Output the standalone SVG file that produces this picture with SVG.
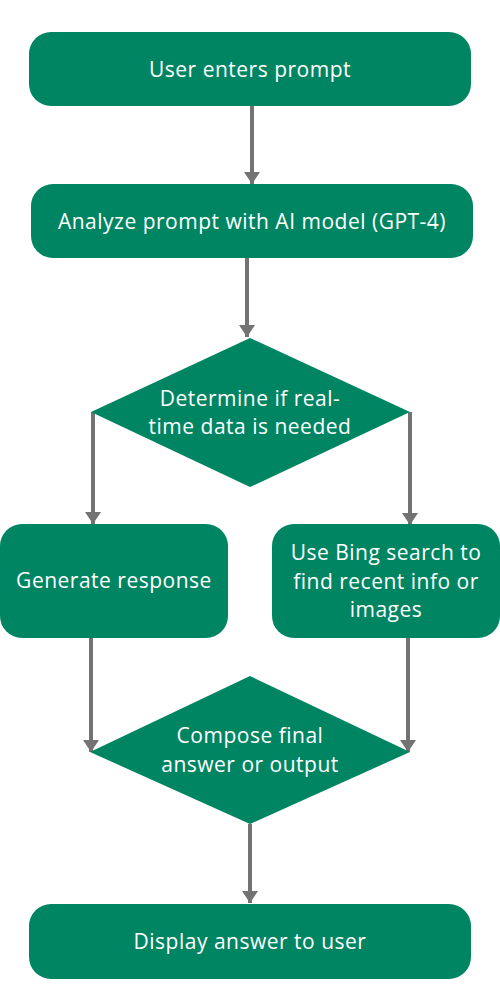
<svg xmlns="http://www.w3.org/2000/svg" width="500" height="1000" viewBox="0 0 500 1000">
<defs>
<style>
.n{fill:#008563}
.t{fill:#ffffff;font-family:"Open Sans","Noto Sans",sans-serif;font-size:21px;letter-spacing:0.5px;text-anchor:middle}
.c{stroke:#737373;stroke-width:4;fill:none}
</style>
<marker id="a" viewBox="0 0 16 12" refX="8" refY="12" markerWidth="16" markerHeight="12" markerUnits="userSpaceOnUse" orient="0">
<path d="M0,0 L16,0 L8,12 Z" fill="#737373"/>
</marker>
</defs>
<rect width="500" height="1000" fill="#ffffff"/>
<g id="connectors">
<line class="c" x1="252" y1="106" x2="252" y2="184" marker-end="url(#a)"/>
<line class="c" x1="247" y1="258" x2="247" y2="337" marker-end="url(#a)"/>
<line class="c" x1="93" y1="412" x2="93" y2="524" marker-end="url(#a)"/>
<line class="c" x1="410" y1="412" x2="410" y2="525" marker-end="url(#a)"/>
<line class="c" x1="91" y1="638" x2="91" y2="752" marker-end="url(#a)"/>
<line class="c" x1="408" y1="638" x2="408" y2="752" marker-end="url(#a)"/>
<line class="c" x1="250" y1="824" x2="250" y2="903" marker-end="url(#a)"/>
</g>
<g id="n1">
<rect class="n" x="29" y="32" width="442" height="74" rx="22"/>
<text class="t" x="250" y="77">User enters prompt</text>
</g>
<g id="n2">
<rect class="n" x="31" y="184" width="442" height="74" rx="22"/>
<text class="t" x="252" y="229">Analyze prompt with AI model (GPT-4)</text>
</g>
<g id="n3">
<polygon class="n" points="250,338 410,412 250,487 91,412"/>
<text class="t" x="250" y="406">Determine if real-</text>
<text class="t" x="250" y="434">time data is needed</text>
</g>
<g id="n4">
<rect class="n" x="0" y="524" width="228" height="114" rx="22"/>
<text class="t" x="114" y="588">Generate response</text>
</g>
<g id="n5">
<rect class="n" x="272" y="524" width="228" height="114" rx="22"/>
<text class="t" x="386" y="560">Use Bing search to</text>
<text class="t" x="386" y="589">find recent info or</text>
<text class="t" x="386" y="617">images</text>
</g>
<g id="n6">
<polygon class="n" points="250,676 410,752 250,824 90,752"/>
<text class="t" x="250" y="743">Compose final</text>
<text class="t" x="250" y="772">answer or output</text>
</g>
<g id="n7">
<rect class="n" x="29" y="904" width="442" height="75" rx="22"/>
<text class="t" x="250" y="949">Display answer to user</text>
</g>
</svg>
